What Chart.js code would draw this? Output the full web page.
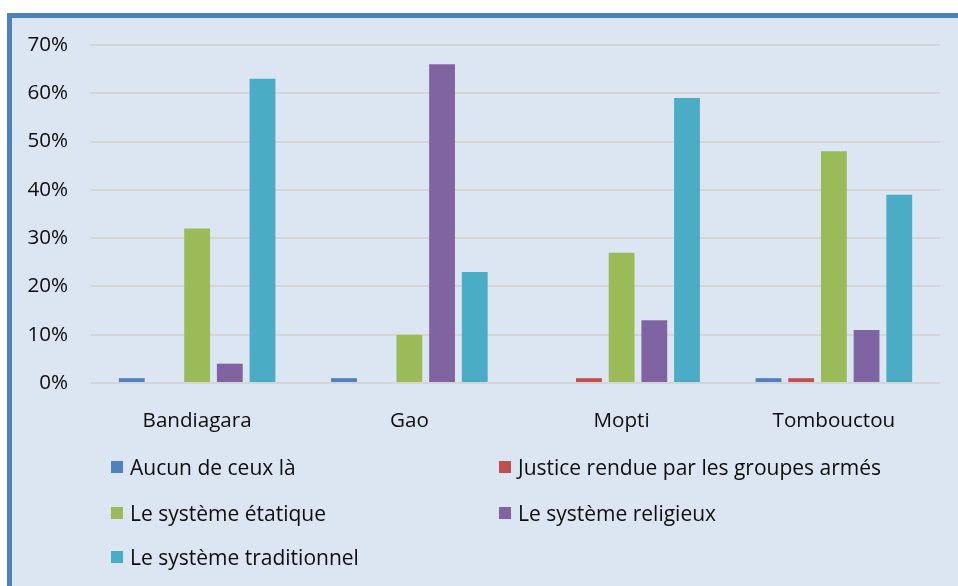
<!DOCTYPE html>
<html><head><meta charset="utf-8">
<script src="https://cdn.jsdelivr.net/npm/chart.js@4"></script>
<style>
html,body{margin:0;padding:0;background:#fff;width:958px;height:586px;overflow:hidden;font-family:'Open Sans',sans-serif;}
#frame{position:absolute;left:7px;top:13px;width:960px;height:600px;border-left:5px solid #4f81bd;border-top:5px solid #4f81bd;background:#dce6f2;}
#c{position:absolute;left:0;top:0;}
.leg{position:absolute;height:28px;display:flex;align-items:center;font-size:21px;color:#0d0d0d;white-space:nowrap;}
.leg .box{width:12px;height:12px;margin-right:7px;flex:none;}
</style></head><body>
<div id="frame"></div>
<canvas id="c" width="958" height="586"></canvas>
<div id="legend"></div>
<script>
const categories = ['Bandiagara', 'Gao', 'Mopti', 'Tombouctou'];
const seriesNames = ['Aucun de ceux là', 'Justice rendue par les groupes armés', 'Le système étatique', 'Le système religieux', 'Le système traditionnel'];
const aucun = [1, 1, 0, 1];
const justice = [0, 0, 1, 1];
const etatique = [32, 10, 27, 48];
const religieux = [4, 66, 13, 11];
const traditionnel = [63, 23, 59, 39];
const yTickValues = [0, 10, 20, 30, 40, 50, 60, 70];
const seriesColors = ['#4f81bd', '#c0504d', '#9bbb59', '#8064a2', '#4bacc6'];

const seriesValues = [aucun, justice, etatique, religieux, traditionnel];
const FONT = {family: "'Open Sans', sans-serif", size: 20.6};

new Chart(document.getElementById('c'), {
  type: 'bar',
  data: {
    labels: categories,
    datasets: seriesNames.map((n, i) => ({
      label: n,
      data: seriesValues[i],
      backgroundColor: seriesColors[i],
      borderWidth: 0,
      barPercentage: 0.79,
      categoryPercentage: 0.77
    }))
  },
  options: {
    responsive: false,
    animation: false,
    layout: {padding: {top: 45, right: 18, left: 0, bottom: 0}},
    plugins: {legend: {display: false}, tooltip: {enabled: false}},
    scales: {
      x: {
        grid: {display: false},
        border: {display: false},
        ticks: {font: FONT, color: '#0d0d0d', padding: 18},
        afterFit: s => { s.height = 203; }
      },
      y: {
        min: 0, max: 70,
        afterBuildTicks: s => { s.ticks = yTickValues.map(v => ({value: v})); },
        grid: {color: '#d5d5d5', lineWidth: 2, drawTicks: false},
        border: {display: false},
        ticks: {font: FONT, color: '#0d0d0d', padding: 23, callback: v => v + '%'},
        afterFit: s => { s.width = 91; }
      }
    }
  }
});

const legX = [111, 499];
const legY = [467, 513, 557];
const legend = document.getElementById('legend');
seriesNames.forEach((n, i) => {
  const d = document.createElement('div');
  d.className = 'leg';
  d.style.left = legX[i % 2] + 'px';
  d.style.top = (legY[Math.floor(i / 2)] - 14) + 'px';
  const b = document.createElement('span');
  b.className = 'box';
  b.style.background = seriesColors[i];
  d.appendChild(b);
  d.appendChild(document.createTextNode(n));
  legend.appendChild(d);
});
</script>
</body></html>
